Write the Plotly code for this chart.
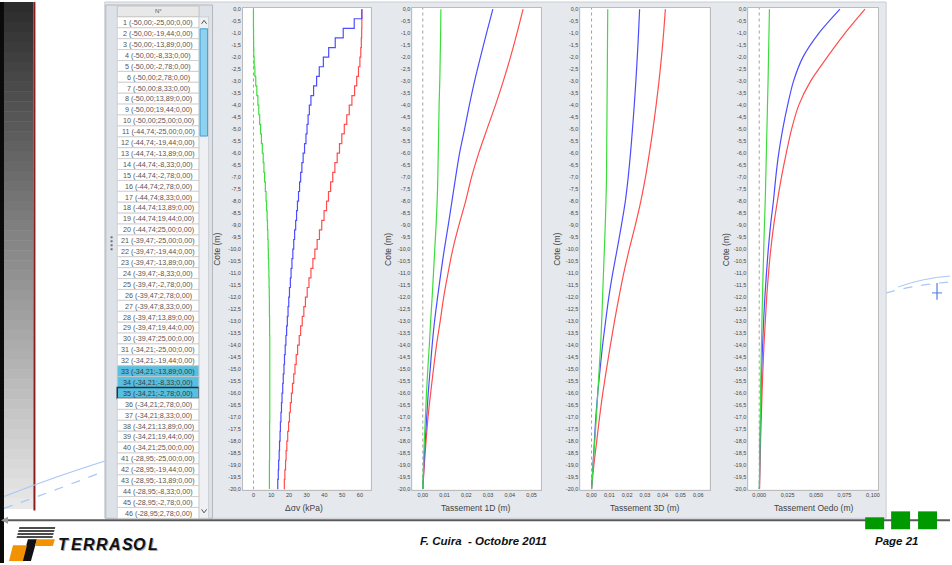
import plotly.graph_objects as go

W, H = 952, 565

# ---------------------------------------------------------------- data
# Points de calcul (liste de gauche)
POINT_X = ["-50,00", "-44,74", "-39,47", "-34,21", "-28,95"]
POINT_Y = ["-25,00", "-19,44", "-13,89", "-8,33", "-2,78",
           "2,78", "8,33", "13,89", "19,44", "25,00"]
N_POINTS = 46
SELECTED = [33, 34, 35]
CURRENT = 35

# Cotes des couches de calcul pour l'increment de contrainte (m)
DEPTH_LAYERS = [0.0, -0.4, -0.8, -1.2, -1.6, -2.0, -2.4, -2.8, -3.2, -3.6,
                -4.0, -4.4, -4.8, -5.2, -5.6, -6.0, -6.4, -6.8, -7.2, -7.6,
                -8.0, -8.4, -8.8, -9.2, -9.6, -10.0, -10.4, -10.8, -11.2, -11.6,
                -12.0, -12.4, -12.8, -13.2, -13.6, -14.0, -14.4, -14.8, -15.2, -15.6,
                -16.0, -16.4, -16.8, -17.2, -17.6, -18.0, -18.4, -18.8, -19.2, -19.6,
                -20.0]

# Increment de contrainte verticale (kPa)
DSIG_RED = [61.1, 61.1, 61.0, 60.8, 60.5, 60.0, 59.2, 58.2, 57.0, 55.5,
            54.0, 52.6, 51.2, 49.8, 48.5, 47.2, 45.9, 44.7, 43.5, 42.3,
            41.2, 39.8, 38.5, 37.2, 35.9, 34.6, 33.5, 32.4, 31.3, 30.3,
            29.3, 28.4, 27.5, 26.6, 25.8, 24.9, 24.1, 23.4, 22.7, 22.0,
            21.4, 20.8, 20.3, 19.8, 19.3, 18.8, 18.4, 18.1, 17.7, 17.4,
            17.1]
DSIG_BLUE = [61.1, 56.8, 50.6, 46.1, 42.4, 39.4, 37.1, 35.6, 33.9, 32.4,
             31.5, 30.8, 30.2, 29.6, 28.8, 28.0, 27.3, 26.6, 26.0, 25.4,
             24.8, 24.3, 23.8, 23.2, 22.7, 22.2, 21.7, 21.2, 20.8, 20.3,
             19.9, 19.5, 19.1, 18.7, 18.3, 17.9, 17.5, 17.2, 16.8, 16.5,
             16.1, 15.8, 15.5, 15.2, 15.0, 14.7, 14.5, 14.2, 14.0, 13.7,
             13.5]
DSIG_GREEN = [0.0, 0.0, 0.05, 0.1, 0.2, 0.4, 0.8, 1.3, 1.9, 2.5,
              3.0, 3.5, 4.0, 4.5, 5.0, 5.5, 5.9, 6.3, 6.7, 7.1,
              7.4, 7.7, 7.9, 8.1, 8.3, 8.4, 8.6, 8.7, 8.8, 8.9,
              9.0, 9.0, 9.1, 9.1, 9.2, 9.2, 9.2, 9.2, 9.2, 9.2,
              9.2, 9.2, 9.2, 9.1, 9.1, 9.1, 9.1, 9.0, 9.0, 9.0,
              9.0]

# Cotes des profils de tassement (m)
DEPTH = [0, -1, -2, -3, -4, -5, -6, -7, -8, -9, -10,
         -11, -12, -13, -14, -15, -16, -17, -18, -19, -20]

# Tassement 1D (m)
S1D_RED = [0.0461, 0.0433, 0.0403, 0.0370, 0.0334, 0.0295, 0.0257, 0.0224, 0.0197, 0.0166, 0.0138,
           0.0116, 0.0096, 0.0080, 0.0063, 0.0049, 0.0036, 0.0024, 0.0015, 0.0007, 0.0000]
S1D_BLUE = [0.0322, 0.0293, 0.0265, 0.0238, 0.0214, 0.0192, 0.0169, 0.0151, 0.0134, 0.0117, 0.0099,
            0.0083, 0.0068, 0.0054, 0.0043, 0.0034, 0.0025, 0.0018, 0.0011, 0.0005, 0.0000]
S1D_GREEN = [0.0083, 0.0082, 0.0080, 0.0078, 0.0075, 0.0073, 0.0071, 0.0069, 0.0066, 0.0061, 0.0055,
             0.0049, 0.0043, 0.0036, 0.0030, 0.0023, 0.0017, 0.0012, 0.0007, 0.0003, 0.0000]

# Tassement 3D (m)
S3D_RED = [0.0415, 0.0405, 0.0393, 0.0379, 0.0363, 0.0345, 0.0325, 0.0303, 0.0277, 0.0246, 0.0212,
           0.0181, 0.0154, 0.0129, 0.0106, 0.0084, 0.0063, 0.0045, 0.0029, 0.0013, 0.0000]
S3D_BLUE = [0.0270, 0.0264, 0.0257, 0.0249, 0.0240, 0.0230, 0.0219, 0.0206, 0.0190, 0.0168, 0.0144,
            0.0119, 0.0097, 0.0079, 0.0062, 0.0048, 0.0035, 0.0024, 0.0016, 0.0008, 0.0000]
S3D_GREEN = [0.0091, 0.0090, 0.0089, 0.0088, 0.0087, 0.0086, 0.0085, 0.0084, 0.0081, 0.0077, 0.0072,
             0.0067, 0.0062, 0.0057, 0.0051, 0.0043, 0.0035, 0.0027, 0.0018, 0.0009, 0.0000]

# Tassement oedometrique (m)
SOED_RED = [0.0930, 0.0755, 0.0598, 0.0452, 0.0348, 0.0285, 0.0238, 0.0196, 0.0160, 0.0128, 0.0102,
            0.0082, 0.0066, 0.0054, 0.0042, 0.0033, 0.0025, 0.0019, 0.0012, 0.0007, 0.0003]
SOED_BLUE = [0.0710, 0.0525, 0.0385, 0.0302, 0.0250, 0.0207, 0.0172, 0.0146, 0.0125, 0.0100, 0.0080,
             0.0064, 0.0050, 0.0039, 0.0030, 0.0022, 0.0016, 0.0012, 0.0008, 0.0005, 0.0002]
SOED_GREEN = [0.0090, 0.0086, 0.0082, 0.0078, 0.0073, 0.0068, 0.0063, 0.0058, 0.0053, 0.0046, 0.0040,
              0.0034, 0.0029, 0.0024, 0.0020, 0.0016, 0.0013, 0.0010, 0.0007, 0.0004, 0.0001]

# Graduations
X_TICKS_DSIG = [0, 10, 20, 30, 40, 50, 60]
X_LABELS_DSIG = ["0", "10", "20", "30", "40", "50", "60"]
X_TICKS_1D = [0.0, 0.01, 0.02, 0.03, 0.04, 0.05]
X_LABELS_1D = ["0,00", "0,01", "0,02", "0,03", "0,04", "0,05"]
X_TICKS_3D = [0.0, 0.01, 0.02, 0.03, 0.04, 0.05, 0.06]
X_LABELS_3D = ["0,00", "0,01", "0,02", "0,03", "0,04", "0,05", "0,06"]
X_TICKS_OED = [0.0, 0.025, 0.05, 0.075, 0.1]
X_LABELS_OED = ["0,000", "0,025", "0,050", "0,075", "0,100"]
Y_TICKS = [-k * 0.5 for k in range(41)]
Y_LABELS = [("%.1f" % v).replace(".", ",").replace("-0,0", "0,0") for v in Y_TICKS]

AXIS_TITLES = ["\u0394\u03c3v (kPa)", "Tassement 1D (m)", "Tassement 3D (m)", "Tassement Oedo (m)"]

RED, BLUE, GREEN = "#ff4d4d", "#4d4dff", "#3ddc3d"
FONT = "Liberation Sans, Arial, sans-serif"

# ---------------------------------------------------------------- helpers
def px(x):
    return x / W


def py(y):
    return 1 - y / H


shapes = []
annotations = []


def rect(x0, y0, x1, y1, fill, line=None, lw=0, layer="below"):
    shapes.append(dict(type="rect", xref="paper", yref="paper",
                       x0=px(x0), x1=px(x1), y0=py(y1), y1=py(y0),
                       fillcolor=fill, line=dict(color=line or fill, width=lw),
                       layer=layer))


def path(cmds, fill=None, line=None, lw=0, dash="solid", layer="below"):
    out = []
    for c in cmds:
        if isinstance(c, str):
            out.append(c)
        else:
            out.append("%.5f,%.5f" % (px(c[0]), py(c[1])))
    shapes.append(dict(type="path", xref="paper", yref="paper", path=" ".join(out),
                       fillcolor=fill if fill else "rgba(0,0,0,0)",
                       line=dict(color=line if line else "rgba(0,0,0,0)", width=lw, dash=dash),
                       layer=layer))


def text(x, y, s, size, color="#444", anchor="center", angle=0, yanchor="middle", family=FONT):
    annotations.append(dict(x=px(x), y=py(y), xref="paper", yref="paper", text=s,
                            showarrow=False, xanchor=anchor, yanchor=yanchor, textangle=angle,
                            font=dict(size=size, color=color, family=family)))


# ---------------------------------------------------------------- slide frame
rect(0, 0, 4, H, "#0a0a0a")
n_bands = 51
for k in range(n_bands):
    t = k / (n_bands - 1)
    g = int(45 + (232 - 45) * t)
    rect(4, k * 10, 33.5, k * 10 + 10.5, "rgb(%d,%d,%d)" % (g, g, g))
rect(33.5, 0, 35.5, 512, "#8c1c1c")

# decorative arcs
path(["M", (4, 498), "Q", (55, 478), (106, 462)], line="#a9c6f6", lw=1.2)
path(["M", (4, 510), "Q", (55, 492), (106, 472)], line="#a9c6f6", lw=1.2, dash="dash")
path(["M", (888, 293), "Q", (915, 285), (952, 282)], line="#a9c6f6", lw=1.2, dash="dash")
path(["M", (900, 287), "Q", (925, 278), (952, 276)], line="#a9c6f6", lw=1.0)
path(["M", (939, 283), "L", (939, 300)], line="#4f7fe0", lw=1.2)
path(["M", (934, 293), "L", (944, 293)], line="#4f7fe0", lw=1.0)

# application window
rect(105, 0, 888, 520, "#e5e8ed", line="#c9cdd3", lw=1)

# plot areas (white)
PLOT_BOXES = [(243.5, 371.5), (413.3, 542.0), (581.7, 711.0), (750.0, 880.0)]
Y_TOP, Y_BOT = 6, 491
for x0, x1 in PLOT_BOXES:
    rect(x0, Y_TOP, x1, Y_BOT, "#ffffff")

# ---------------------------------------------------------------- point list
rect(106, 3, 213, 520, "#dde2e8", line="#b4b8be", lw=1)
rect(117.5, 4, 199.5, 15, "#e8e8e8", line="#c2c2c2", lw=1)
text(158.5, 9.5, "N\u00b0", 6, "#555")
ROW_H = 10.98
for i in range(1, N_POINTS + 1):
    y0 = 15 + (i - 1) * ROW_H
    fill = "#57bfe0" if i in SELECTED else "#ffffff"
    line = "#1e3440" if i == CURRENT else "#c9c9c9"
    lw = 1.5 if i == CURRENT else 0.8
    rect(117.5, y0, 199.5, y0 + ROW_H, fill, line=line, lw=lw)
    label = "%d (%s;%s;0,00)" % (i, POINT_X[(i - 1) // 10], POINT_Y[(i - 1) % 10])
    text(158.5, y0 + ROW_H / 2 + 0.3, label, 7.2, "#3a3a3a" if i in SELECTED else "#555")

# scrollbar
rect(199.5, 15, 209, 520, "#eef0f3", line="#c6c9ce", lw=0.8)
path(["M", (202, 22), "L", (204.5, 18.5), "L", (207, 22)], line="#555", lw=1)
path(["M", (202, 511), "L", (204.5, 514.5), "L", (207, 511)], line="#555", lw=1)
rect(200.5, 27, 208, 135, "#8fd2f0", line="#3f9fd6", lw=1)
for k in range(4):
    rect(110.8, 236 + k * 4, 112.8, 238 + k * 4, "#66707a")

# ---------------------------------------------------------------- curves
fig = go.Figure()

PANELS = [
    (DEPTH_LAYERS, DSIG_RED, DSIG_BLUE, DSIG_GREEN, "vh"),
    (DEPTH, S1D_RED, S1D_BLUE, S1D_GREEN, "spline"),
    (DEPTH, S3D_RED, S3D_BLUE, S3D_GREEN, "spline"),
    (DEPTH, SOED_RED, SOED_BLUE, SOED_GREEN, "spline"),
]
for k, (zs, red, blue, green, shape) in enumerate(PANELS):
    xa = "x" if k == 0 else "x%d" % (k + 1)
    ya = "y" if k == 0 else "y%d" % (k + 1)
    for vals, col in ((red, RED), (blue, BLUE), (green, GREEN)):
        fig.add_trace(go.Scatter(x=vals, y=zs, mode="lines", xaxis=xa, yaxis=ya,
                                 line=dict(color=col, width=1.2, shape=shape, smoothing=0.8),
                                 showlegend=False, hoverinfo="skip"))
    # dotted zero line
    shapes.append(dict(type="line", xref=xa, yref=ya, x0=0, x1=0, y0=-20.02, y1=0.05,
                       line=dict(color="#a0a0a0", width=1, dash="dot"), layer="below"))

X_RANGES = [[-5.9, 66.1], [-0.00477, 0.05427], [-0.00623, 0.0663], [-0.00947, 0.1046]]
X_TICKS = [(X_TICKS_DSIG, X_LABELS_DSIG), (X_TICKS_1D, X_LABELS_1D),
           (X_TICKS_3D, X_LABELS_3D), (X_TICKS_OED, X_LABELS_OED)]

layout_axes = {}
for k in range(4):
    sx = "" if k == 0 else str(k + 1)
    x0, x1 = PLOT_BOXES[k]
    layout_axes["xaxis" + sx] = dict(
        domain=[px(x0), px(x1)], range=X_RANGES[k], anchor="y" + sx,
        tickmode="array", tickvals=X_TICKS[k][0], ticktext=X_TICKS[k][1],
        tickfont=dict(size=5.5, color="#444", family=FONT), ticks="",
        showline=True, mirror=True, linecolor="#bcbcbc", linewidth=1,
        showgrid=False, zeroline=False, fixedrange=True)
    layout_axes["yaxis" + sx] = dict(
        domain=[py(Y_BOT), py(Y_TOP)], range=[-20.02, 0.05], anchor="x" + sx,
        tickmode="array", tickvals=Y_TICKS, ticktext=Y_LABELS,
        tickfont=dict(size=5.5, color="#444", family=FONT), ticks="",
        showline=True, mirror=True, linecolor="#bcbcbc", linewidth=1,
        showgrid=False, zeroline=False, fixedrange=True)

# axis titles
TITLE_X = [305, 477.5, 646.7, 816]
for tx, s in zip(TITLE_X, AXIS_TITLES):
    text(tx, 510, s, 8.5, "#444")
for cx in [218, 389.5, 558.7, 727.5]:
    text(cx, 249, "Cote (m)", 8.5, "#444", angle=-90)

# ---------------------------------------------------------------- footer
path(["M", (8, 522), "L", (952, 522)], line="#5a5a5a", lw=2)
path(["M", (1, 522), "L", (8, 518.5), "L", (8, 525.5), "Z"], fill="#9a9a9a")
rect(867, 519, 886, 531, "#009900")
rect(893, 513, 912, 531, "#009900")
rect(920, 513, 939, 531, "#009900")

# logo
for k in range(4):
    yk = 529 + k * 3
    path(["M", (17 + 0.8 * (3 - k), yk), "L", (53 + 0.8 * (3 - k), yk), "L", (52.6 + 0.8 * (3 - k), yk + 1.6),
          "L", (16.6 + 0.8 * (3 - k), yk + 1.6), "Z"], fill="#111")
path(["M", (28, 541), "L", (37, 541), "L", (31, 563), "L", (22, 563), "Z"], fill="#111")
path(["M", (13, 547), "L", (27, 547), "L", (23, 563), "L", (9, 563), "Z"], fill="#f39200")
path(["M", (37, 541), "L", (55, 541), "L", (53, 548), "L", (35, 548), "Z"], fill="#f39200")
for k, ch in enumerate("TERRASOL"):
    cx = 64 + k * 12.7
    text(cx + 1, 547, "<b><i>%s</i></b>" % ch, 16, "#a8a8a8")
    text(cx, 546, "<b><i>%s</i></b>" % ch, 16, "#111")

text(485, 543, "<b><i>F. Cuira\u00a0 - Octobre 2011</i></b>", 11.5, "#111")
text(898, 543, "<b><i>Page 21</i></b>", 11.5, "#111")

fig.update_layout(
    width=W, height=H, margin=dict(l=0, r=0, t=0, b=0),
    paper_bgcolor="#ffffff", plot_bgcolor="rgba(0,0,0,0)",
    shapes=shapes, annotations=annotations, showlegend=False,
    **layout_axes,
)

fig.write_html("out.html")
